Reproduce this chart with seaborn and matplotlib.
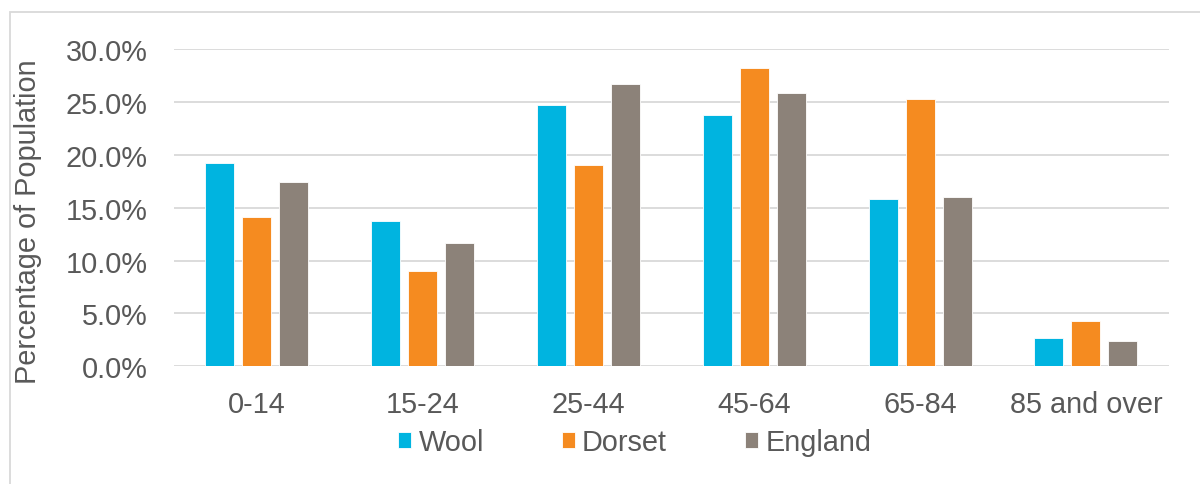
import pandas as pd
import numpy as np
import seaborn as sns
import matplotlib.pyplot as plt
from matplotlib.ticker import PercentFormatter
from matplotlib.patches import Rectangle

age_groups = ['0-14', '15-24', '25-44', '45-64', '65-84', '85 and over']
wool = [19.2, 13.7, 24.7, 23.8, 15.8, 2.7]
dorset = [14.1, 9.0, 19.0, 28.2, 25.3, 4.3]
england = [17.4, 11.7, 26.7, 25.8, 16.0, 2.4]
series = ['Wool', 'Dorset', 'England']
colors = ['#00B4E0', '#F58B20', '#8C8279']

# long form table for seaborn
df = pd.DataFrame({'Age': age_groups, 'Wool': wool, 'Dorset': dorset, 'England': england})
df = df.melt(id_vars='Age', var_name='Area', value_name='Pct')

sns.set_style('white')
plt.rcParams['font.family'] = ['Liberation Sans', 'DejaVu Sans']
txt = '#595959'
fs = 20.8

fig = plt.figure(figsize=(12, 4.85), dpi=100)
ax = fig.add_axes([0.145, 0.2427, 0.829, 0.6542])

sns.barplot(data=df, x='Age', y='Pct', hue='Area', hue_order=series,
            palette=colors, width=0.67, gap=0.22, saturation=1,
            edgecolor='white', linewidth=0.6, ax=ax, legend=True)

ax.set_ylim(0, 30)
ax.set_yticks(np.arange(0, 31, 5))
ax.yaxis.set_major_formatter(PercentFormatter(decimals=1))
ax.grid(axis='y', color='#D9D9D9', linewidth=1.3)
ax.set_axisbelow(True)
for s in ax.spines.values():
    s.set_visible(False)
ax.tick_params(axis='y', length=0, pad=19, labelsize=fs, labelcolor=txt)
ax.tick_params(axis='x', length=0, pad=17, labelsize=fs, labelcolor=txt)
ax.set_xlabel('')
ax.set_ylabel('Percentage of Population', fontsize=fs, color=txt)
ax.yaxis.set_label_coords(-0.1327, 0.46)

handles, labels = ax.get_legend_handles_labels()
ax.get_legend().remove()
fig.legend(handles, labels, loc='center', bbox_to_anchor=(0.529, 0.086),
           ncol=3, frameon=False, fontsize=fs, labelcolor=txt,
           handlelength=0.45, handleheight=0.45, handletextpad=0.25,
           columnspacing=2.7)

# light frame round the chart
fig.patches.append(Rectangle((10 / 1200, -0.1), 1.2, 1.1 - 13 / 485,
                             transform=fig.transFigure, fill=False,
                             edgecolor='#D9D9D9', linewidth=1.3))

fig.savefig('out.png', dpi=100)
